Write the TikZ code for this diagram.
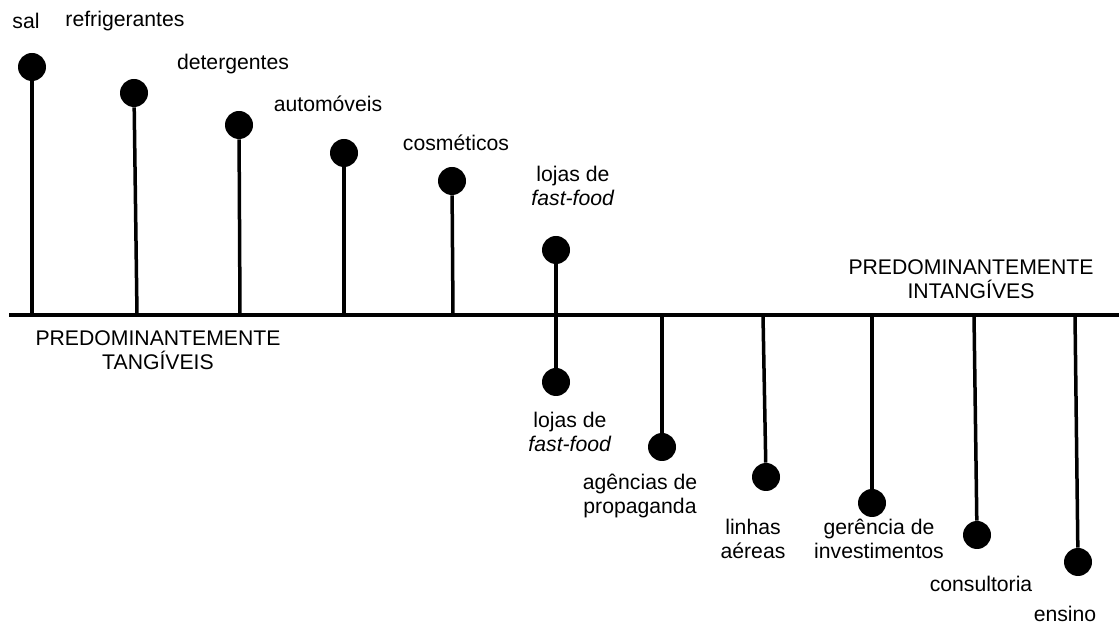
\documentclass[tikz,border=0pt]{standalone}
\usepackage{fontspec}
\setmainfont{Liberation Sans}
\usepackage{tikz}

\tikzset{
  dot/.style={circle,fill=black,inner sep=0pt,minimum size=14pt},
  stem/.style={line width=1.75pt},
  lbl/.style={font=\fontsize{10.6}{12.2}\selectfont,align=center,inner sep=0pt}
}

\begin{document}
\begin{tikzpicture}[x=0.5pt,y=-0.5pt]

\useasboundingbox (0,0) rectangle (1119,624);

% eixo
\coordinate (L) at (9,315);
\coordinate (R) at (1119,315);
\draw[line width=2pt] (L) -- (R);

% tangiveis
\node [dot] (sal) at (32,67) {};
\node [dot] (refr) at (134,93) {};
\node [dot] (det) at (239,125) {};
\node [dot] (auto) at (344,153) {};
\node [dot] (cosm) at (452,181) {};
\node [dot] (ffup) at (556,250) {};

\coordinate (bsal) at (32,315);
\coordinate (brefr) at (137,315);
\coordinate (bdet) at (240,315);
\coordinate (bauto) at (344,315);
\coordinate (bcosm) at (453,315);

\draw[stem] (sal) -- (bsal);
\draw[stem] (refr) -- (brefr);
\draw[stem] (det) -- (bdet);
\draw[stem] (auto) -- (bauto);
\draw[stem] (cosm) -- (bcosm);

% intangiveis
\node [dot] (ffdn) at (556,382) {};
\node [dot] (agen) at (662,447) {};
\node [dot] (linh) at (766,477) {};
\node [dot] (ger) at (872,503) {};
\node [dot] (cons) at (977,535) {};
\node [dot] (ens) at (1078,562) {};

\coordinate (bagen) at (662,315);
\coordinate (blinh) at (763,315);
\coordinate (bger) at (872,315);
\coordinate (bcons) at (974,315);
\coordinate (bens) at (1075,315);

\draw[stem] (ffup) -- (ffdn);
\draw[stem] (bagen) -- (agen);
\draw[stem] (blinh) -- (linh);
\draw[stem] (bger) -- (ger);
\draw[stem] (bcons) -- (cons);
\draw[stem] (bens) -- (ens);

% rotulos
\node [lbl] (tsal) at (26,21) {sal};
\node [lbl] (trefr) at (125,21) {refrigerantes};
\node [lbl] (tdet) at (233,64) {detergentes};
\node [lbl] (tauto) at (328,104) {automóveis};
\node [lbl] (tcosm) at (456,143) {cosméticos};
\node [lbl] (tffup) at (573,186) {lojas de\\\textit{fast-food}};
\node [lbl] (ttang) at (158,350) {PREDOMINANTEMENTE\\TANGÍVEIS};
\node [lbl] (tintang) at (971,279) {PREDOMINANTEMENTE\\INTANGÍVES};
\node [lbl] (tffdn) at (570,432) {lojas de\\\textit{fast-food}};
\node [lbl] (tagen) at (640,496) {agências de\\propaganda};
\node [lbl] (tlinh) at (753,539) {linhas\\aéreas};
\node [lbl] (tger) at (879,539) {gerência de\\investimentos};
\node [lbl] (tcons) at (981,584) {consultoria};
\node [lbl] (tens) at (1065,614) {ensino};

\end{tikzpicture}
\end{document}
